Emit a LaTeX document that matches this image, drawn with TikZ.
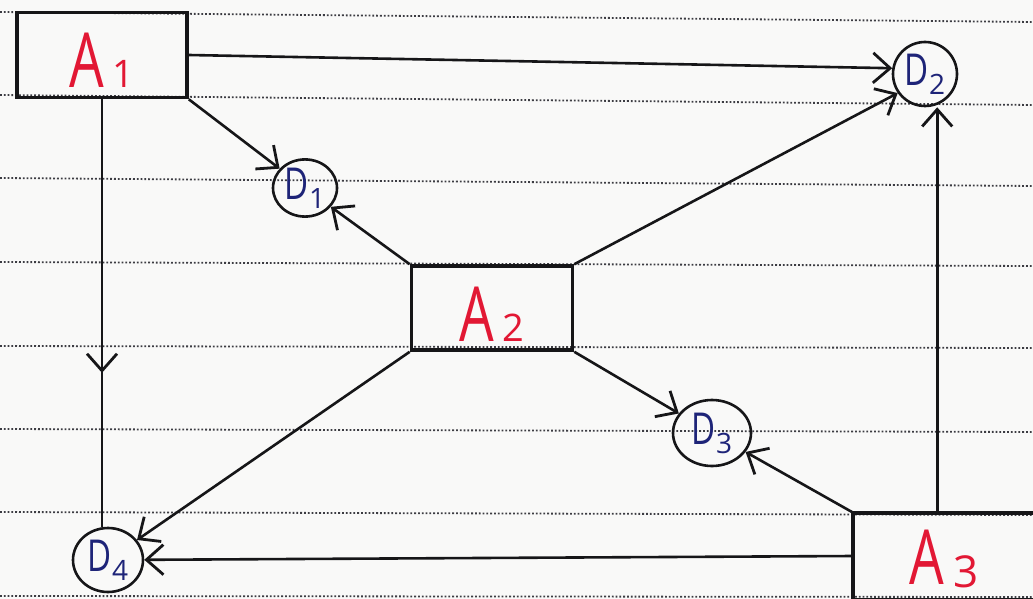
\documentclass[tikz,border=0pt]{standalone}
\usepackage{fontspec}
\setmainfont{Open Sans}
\usetikzlibrary{arrows.meta,shapes.geometric,decorations.markings,calc}
\definecolor{paper}{RGB}{249,249,248}
\definecolor{rulecol}{RGB}{60,60,66}
\definecolor{ink}{RGB}{22,22,24}
\definecolor{redink}{RGB}{226,24,52}
\definecolor{blueink}{RGB}{30,36,120}
% labels: a letter with a smaller digit beside it
\newcommand\alabel[2][0pt]{\textcolor{redink}{\fontsize{76}{76}\selectfont\scalebox{0.72}[1]{A}\hspace{9pt}{\fontsize{38}{38}\selectfont\raisebox{#1}{#2}}}}
\newcommand\dlabel[1]{\textcolor{blueink}{\fontsize{44}{44}\selectfont\scalebox{0.75}[1]{D}{\fontsize{28}{28}\selectfont\raisebox{-9pt}{#1}}}}
\begin{document}
\begin{tikzpicture}[x=1pt,y=-1pt,
  ruling/.style={draw=rulecol, line width=1.8pt, dash pattern=on 1.8pt off 2pt},
  abox/.style={rectangle, draw=ink, line width=3.6pt, inner sep=0pt, text height=66pt},
  dnode/.style={ellipse, draw=ink, line width=2.6pt, inner sep=0pt},
  barb/.tip={Straight Barb[length=17pt,width=30pt,line width=2.8pt]},
  flow/.style={draw=ink, line width=2.6pt, -barb},
  midflow/.style={draw=ink, line width=2.2pt,
    postaction={decorate},
    decoration={markings, mark=at position 0.64 with {\arrow{barb}}}}
]
\fill[paper] (0,0) rectangle (1033,599);
\useasboundingbox (0,0) rectangle (1033,599);

% ruled paper
\foreach \yl/\yr in {12/22, 95/105, 178/186, 262/266, 346/348, 429/432, 512/515, 596/597}
  \draw[ruling] (0,\yl) -- (1033,\yr);

% entities
\node[abox, minimum width=170pt, minimum height=85pt] (A1) at (102,55) {\alabel{1}};
\node[abox, minimum width=161pt, minimum height=84pt] (A2) at (492,308) {\alabel{2}};
% A3 runs off the right edge of the sheet: only three sides are drawn
\node[abox, draw=none, text height=60pt, minimum width=178pt, minimum height=83pt] (A3) at (944,556) {\alabel[-3pt]{\fontsize{44}{44}\selectfont 3}};
\draw[ink, line width=3.6pt] ([xshift=10pt]A3.north east) -- (A3.north west) -- (A3.south west) -- ([xshift=10pt]A3.south east);

% data stores
\node[dnode, minimum width=64pt, minimum height=55pt] (D1) at (305,188) {\dlabel{1}};
\node[dnode, minimum width=64pt, minimum height=64pt] (D2) at (925,74) {\dlabel{2}};
\node[dnode, minimum width=78pt, minimum height=66pt] (D3) at (712,433) {\dlabel{3}};
\node[dnode, minimum width=70pt, minimum height=64pt] (D4) at (108,560) {\dlabel{4}};

% flows from A1
\draw[flow] (A1.east) -- (D2.170);
\draw[flow] (A1.south east) -- (D1);
\draw[midflow] (A1.south) -- (A1.south |- D4.north);

% flows from A2
\draw[flow] (A2.north west) -- (D1);
\draw[flow] (A2.north east) -- (D2.215);
\draw[flow] (A2.south east) -- (D3);
\draw[flow] (A2.south west) -- (D4);

% flows from A3
\path (A3.north west) ++(84,0) coordinate (A3top);
\draw[flow] (A3.north west) -- (D3);
\draw[flow] (A3top) -- (A3top |- D2.south);
\draw[flow] (A3.west) -- (D4);
\end{tikzpicture}
\end{document}
